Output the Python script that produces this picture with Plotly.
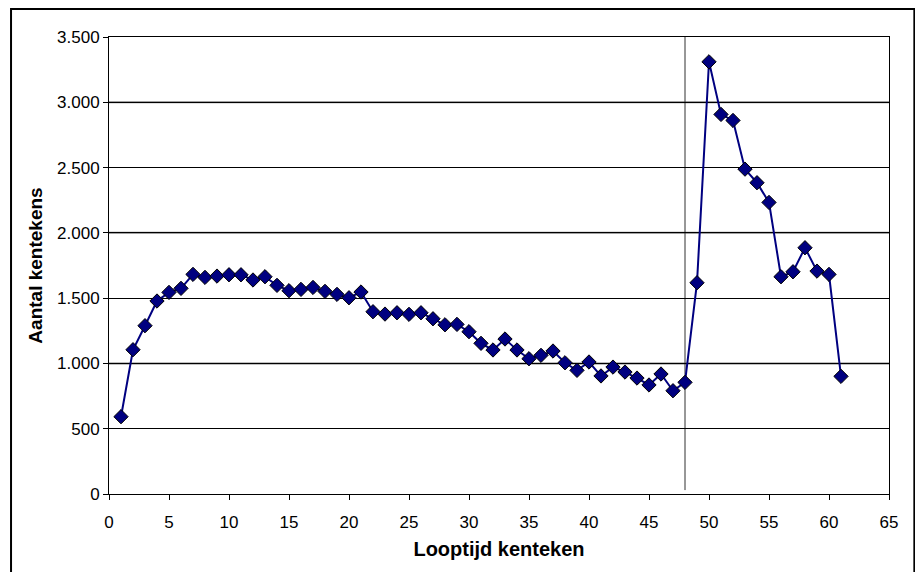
import plotly.graph_objects as go

months = list(range(1, 62))
counts = [
    592, 1105, 1289, 1478, 1544, 1575, 1682, 1659, 1669, 1679,
    1679, 1639, 1664, 1598, 1557, 1567, 1582, 1552, 1529, 1503,
    1547, 1396, 1378, 1388, 1376, 1388, 1342, 1296, 1299, 1243,
    1154, 1103, 1187, 1103, 1036, 1062, 1095, 1005, 947, 1011,
    904, 972, 934, 888, 835, 919, 791, 855, 1618, 3310,
    2907, 2861, 2488, 2384, 2233, 1664, 1702, 1886, 1707, 1682,
    901,
]
marker_month = 48
x_title = "Looptijd kenteken"
y_title = "Aantal kentekens"
gray_grid_values = [1000, 2000, 3000]

font = "Liberation Sans, Arial, sans-serif"

fig = go.Figure()
fig.add_trace(go.Scatter(
    x=months, y=counts, mode="lines+markers",
    line=dict(color="#000080", width=2),
    marker=dict(symbol="diamond", size=11, color="#000080",
                line=dict(color="black", width=1)),
    showlegend=False, hoverinfo="x+y",
))

shapes = []
for v in gray_grid_values:
    shapes.append(dict(type="line", xref="x", yref="y", x0=0, x1=65, y0=v, y1=v,
                       line=dict(color="#808080", width=2), layer="below"))
shapes.append(dict(type="line", xref="x", yref="y", x0=marker_month, x1=marker_month,
                   y0=30, y1=3500, line=dict(color="#303030", width=1), layer="below"))
# outer chart border
shapes.append(dict(type="rect", xref="paper", yref="paper",
                   x0=-0.1256, x1=1.0325, y0=-0.3, y1=1.0613,
                   line=dict(color="black", width=2), fillcolor="rgba(0,0,0,0)",
                   layer="above"))

fig.update_layout(
    width=915, height=572,
    margin=dict(l=109, r=26, t=37, b=78),
    paper_bgcolor="white", plot_bgcolor="white",
    separators=",.",
    font=dict(family=font, size=17, color="black"),
    shapes=shapes,
    xaxis=dict(
        range=[0, 65], dtick=5, tick0=0,
        showgrid=False, zeroline=False,
        showline=True, linecolor="black", linewidth=1, mirror=True,
        ticks="outside", ticklen=5, tickcolor="black",
        ticklabelstandoff=8,
        tickfont=dict(family=font, size=17, color="black"),
        title=dict(text=x_title, font=dict(family=font, size=20, color="black", weight="bold"),
                   standoff=10),
        automargin=False,
    ),
    yaxis=dict(
        range=[0, 3500], dtick=500, tick0=0,
        tickformat=",d",
        showgrid=True, gridcolor="black", gridwidth=1,
        zeroline=False,
        showline=True, linecolor="black", linewidth=1, mirror=True,
        ticks="outside", ticklen=5, tickcolor="black",
        tickfont=dict(family=font, size=17, color="black"),
        title=dict(text=y_title, font=dict(family=font, size=19, color="black", weight="bold"),
                   standoff=9),
        automargin=False,
    ),
)

fig.write_html("out.html")
